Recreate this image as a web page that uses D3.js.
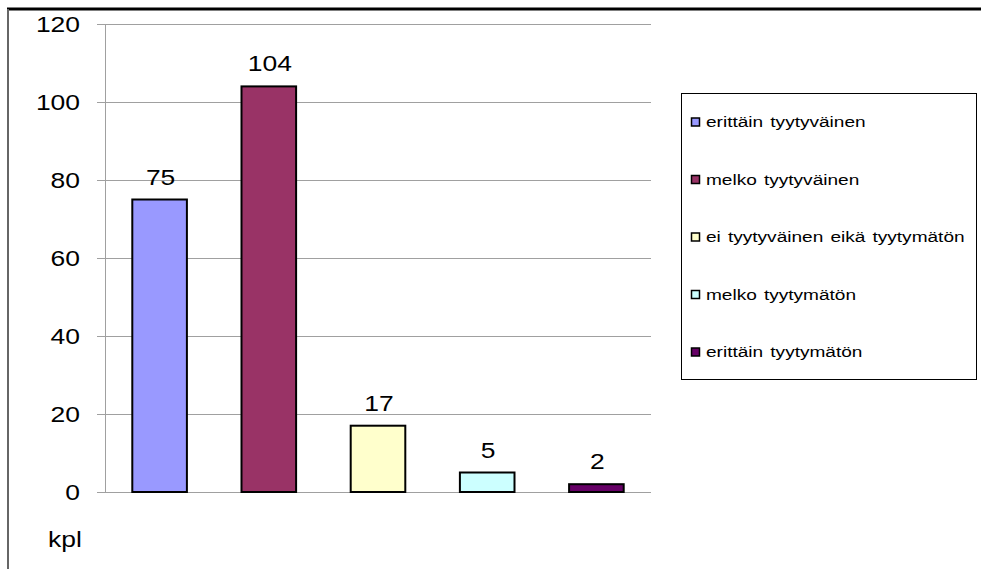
<!DOCTYPE html>
<html lang="fi">
<head>
    <meta charset="UTF-8" />
    <title>Tyytyväisyys</title>
    <script src="https://d3js.org/d3.v7.js"></script>
    <style>
        body { margin: 0; background: #fff; }
        text { font-family: "Liberation Sans", Arial, sans-serif; }
    </style>
</head>
<body>
    <script>
        var w = 981;
        var h = 569;
        // the original picture is stretched sideways a bit, text too
        var stretch = 1.23;

        var categories = ["erittäin tyytyväinen", "melko tyytyväinen", "ei tyytyväinen eikä tyytymätön", "melko tyytymätön", "erittäin tyytymätön"];
        var values = [75, 104, 17, 5, 2];
        var colors = ["#9999ff", "#993366", "#ffffcc", "#ccffff", "#660066"];
        var yTicks = [0, 20, 40, 60, 80, 100, 120];

        function place(x, y) {
            return "translate(" + x + "," + y + ") scale(" + stretch + ",1)";
        }

        var svg = d3.select("body")
            .append("svg")
            .attr("width", w)
            .attr("height", h);

        // outer frame (top and left edges visible)
        svg.append("line")
            .attr("x1", 7).attr("x2", w)
            .attr("y1", 9).attr("y2", 9)
            .attr("stroke", "#000").attr("stroke-width", 3);
        svg.append("line")
            .attr("x1", 8).attr("x2", 8)
            .attr("y1", 9).attr("y2", h)
            .attr("stroke", "#666").attr("stroke-width", 2);

        var xScale = d3.scaleBand()
            .domain(d3.range(categories.length))
            .range([105, 651])
            .paddingInner(0.5)
            .paddingOuter(0.25);

        var yScale = d3.scaleLinear()
            .domain([0, 120])
            .range([492, 24]);

        // gridlines + ticks
        svg.selectAll(".grid")
            .data(yTicks)
            .enter()
            .append("line")
            .attr("x1", 97).attr("x2", 651)
            .attr("y1", function (d) { return yScale(d) + 0.5; })
            .attr("y2", function (d) { return yScale(d) + 0.5; })
            .attr("stroke", "#a0a0a0");

        svg.append("line")
            .attr("x1", 105.5).attr("x2", 105.5)
            .attr("y1", yScale(120)).attr("y2", yScale(0))
            .attr("stroke", "#a0a0a0");

        svg.selectAll(".ytick")
            .data(yTicks)
            .enter()
            .append("text")
            .attr("transform", function (d) { return place(80, yScale(d) + 7.5); })
            .attr("text-anchor", "end")
            .attr("font-size", 21.5)
            .text(function (d) { return d; });

        svg.append("text")
            .attr("transform", place(48, 547))
            .attr("font-size", 21.5)
            .text("kpl");

        // bars
        svg.selectAll("rect.bar")
            .data(values)
            .enter()
            .append("rect")
            .attr("class", "bar")
            .attr("x", function (d, i) { return xScale(i); })
            .attr("y", function (d) { return yScale(d); })
            .attr("width", xScale.bandwidth())
            .attr("height", function (d) { return yScale(0) - yScale(d); })
            .attr("fill", function (d, i) { return colors[i]; })
            .attr("stroke", "#000")
            .attr("stroke-width", 2);

        svg.selectAll(".vlabel")
            .data(values)
            .enter()
            .append("text")
            .attr("transform", function (d, i) {
                return place(xScale(i) + xScale.bandwidth() / 2 + 1, yScale(d) - 15);
            })
            .attr("text-anchor", "middle")
            .attr("font-size", 21.5)
            .text(function (d) { return d; });

        // legend
        var legend = svg.append("g");
        legend.append("rect")
            .attr("x", 681.5).attr("y", 93.5)
            .attr("width", 295).attr("height", 286)
            .attr("fill", "#fff").attr("stroke", "#000");

        var legendY = d3.scalePoint()
            .domain(d3.range(categories.length))
            .range([122, 352]);

        var items = legend.selectAll(".item")
            .data(categories)
            .enter()
            .append("g")
            .attr("transform", function (d, i) { return "translate(690," + legendY(i) + ")"; });

        items.append("rect")
            .attr("x", 1.5).attr("y", -4)
            .attr("width", 8).attr("height", 8)
            .attr("fill", function (d, i) { return colors[i]; })
            .attr("stroke", "#000").attr("stroke-width", 1.5);

        items.append("text")
            .attr("transform", place(16, 5))
            .attr("font-size", 15.5)
            .attr("word-spacing", 1.5)
            .text(function (d) { return d; });
    </script>
</body>
</html>
